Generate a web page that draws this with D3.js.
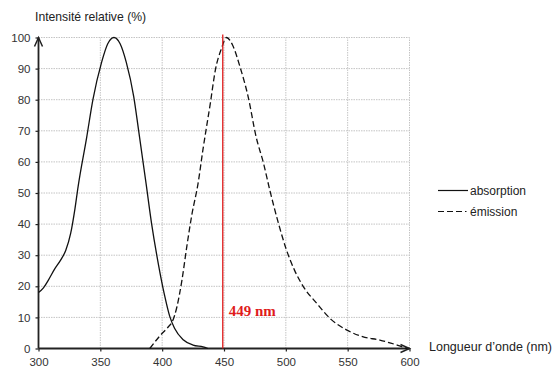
<!DOCTYPE html>
<html>
<head>
<meta charset="utf-8">
<script src="https://cdn.jsdelivr.net/npm/d3@7"></script>
<style>
	body { margin: 0; background: #fff; }
	text { font-family: "Liberation Sans", Arial, sans-serif; }
</style>
</head>
<body>
<svg id="chart" width="557" height="374"></svg>
<script>
// absorption curve (solid)
var absWl  = [300, 304, 308, 313, 318, 322, 326, 329.5, 332, 339, 344, 351, 356, 361, 366, 371, 377, 381, 387, 391.5, 397, 402, 406, 410, 417, 425, 433, 437];
var absVal = [18, 19.5, 22, 25.5, 28.5, 31.5, 37, 45, 52, 68, 80, 92, 98, 100, 98, 92, 81, 70, 53, 40, 27, 17, 10.5, 6.5, 2.8, 1.1, 0.5, 0];

// emission curve (dashed)
var emiWl  = [390, 398, 405, 408, 412, 416, 420, 424, 429, 433, 439, 443, 448, 452, 457, 463, 469.5, 476, 482, 487, 494, 500.5, 507, 514, 525, 537, 549, 562, 576, 590, 598];
var emiVal = [0, 4, 7, 8.5, 13.5, 22, 33, 43, 53, 64, 79, 89.5, 96.5, 100, 97.5, 90.5, 81, 68, 59.5, 51, 40.3, 31.7, 25.2, 20, 14.5, 9.2, 6, 3.8, 2.7, 1.1, 0];

var xTicks = [300, 350, 400, 450, 500, 550, 600];
var yTicks = [0, 10, 20, 30, 40, 50, 60, 70, 80, 90, 100];
var peakWl = 449;
var peakLabel = '449 nm';
var legendNames = ['absorption', 'émission'];

var svg = d3.select('#chart'),
	x = d3.scaleLinear().domain([300, 600]).range([38.5, 409.5]),
	y = d3.scaleLinear().domain([0, 100]).range([348.5, 37.5]);

// grid
var grid = svg.append('g').attr('class', 'grid');
grid.selectAll('line.v').data(xTicks.slice(1)).enter().append('line')
	.attr('class', 'v')
	.attr('x1', function (d) {return x(d);}).attr('x2', function (d) {return x(d);})
	.attr('y1', y(0)).attr('y2', y(100))
	.attr('stroke', '#c4c4c4').attr('stroke-width', 1).attr('stroke-dasharray', '1.5,1');
grid.selectAll('line.h').data(yTicks.slice(1)).enter().append('line')
	.attr('class', 'h')
	.attr('x1', x(300)).attr('x2', x(600))
	.attr('y1', function (d) {return y(d);}).attr('y2', function (d) {return y(d);})
	.attr('stroke', '#c4c4c4').attr('stroke-width', 1).attr('stroke-dasharray', '1.5,1');

// axes
var xAxis = d3.axisBottom(x).tickValues(xTicks).tickSize(3).tickSizeOuter(0).tickPadding(6);
var yAxis = d3.axisLeft(y).tickValues(yTicks).tickSize(3).tickSizeOuter(0).tickPadding(5);

var gx = svg.append('g').attr('transform', 'translate(0,' + y(0) + ')').call(xAxis);
var gy = svg.append('g').attr('transform', 'translate(' + x(300) + ',0)').call(yAxis);
[gx, gy].forEach(function (g) {
	g.select('.domain').remove();
	g.selectAll('.tick line').attr('stroke', '#222').attr('stroke-width', 1.2);
	g.selectAll('.tick text').attr('fill', '#333').style('font-size', '11.5px')
		.style('font-family', '"Liberation Sans", Arial, sans-serif');
});

// axis lines with open arrow heads
svg.append('line').attr('x1', x(300)).attr('x2', x(600)).attr('y1', y(0)).attr('y2', y(0))
	.attr('stroke', '#222').attr('stroke-width', 1.8);
svg.append('line').attr('x1', x(300)).attr('x2', x(300)).attr('y1', y(0)).attr('y2', y(100))
	.attr('stroke', '#222').attr('stroke-width', 1.8);
svg.append('path')
	.attr('d', 'M' + (x(600) - 9) + ',' + (y(0) - 4) + 'L' + x(600) + ',' + y(0) + 'L' + (x(600) - 9) + ',' + (y(0) + 4))
	.attr('fill', 'none').attr('stroke', '#222').attr('stroke-width', 1.5);
svg.append('path')
	.attr('d', 'M' + (x(300) - 4) + ',' + (y(100) + 9) + 'L' + x(300) + ',' + y(100) + 'L' + (x(300) + 4) + ',' + (y(100) + 9))
	.attr('fill', 'none').attr('stroke', '#222').attr('stroke-width', 1.5);

// curves
var line = d3.line()
	.x(function (d) {return x(d[0]);})
	.y(function (d) {return y(d[1]);})
	.curve(d3.curveMonotoneX);

svg.append('path').datum(d3.zip(absWl, absVal))
	.attr('d', line).attr('fill', 'none')
	.attr('stroke', '#111').attr('stroke-width', 1.3);
svg.append('path').datum(d3.zip(emiWl, emiVal))
	.attr('d', line).attr('fill', 'none')
	.attr('stroke', '#111').attr('stroke-width', 1.3).attr('stroke-dasharray', '6,3');

// peak marker
svg.append('line')
	.attr('x1', x(peakWl)).attr('x2', x(peakWl))
	.attr('y1', y(0)).attr('y2', y(100) - 3)
	.attr('stroke', '#e01b1b').attr('stroke-width', 1.3);
svg.append('text')
	.attr('x', x(peakWl) + 6).attr('y', 316)
	.attr('fill', '#e01b1b')
	.style('font-family', '"Liberation Serif", "Times New Roman", serif')
	.style('font-weight', 'bold').style('font-size', '15px')
	.text(peakLabel);

// axis titles
svg.append('text').attr('x', 35).attr('y', 21).attr('fill', '#222')
	.style('font-size', '12.2px').text('Intensité relative (%)');
svg.append('text').attr('x', 429).attr('y', 351).attr('fill', '#222')
	.style('font-size', '12.5px').text('Longueur d\u2019onde (nm)');

// legend
var legend = svg.append('g').attr('transform', 'translate(438,0)');
legend.selectAll('line').data(legendNames).enter().append('line')
	.attr('x1', 0).attr('x2', 30)
	.attr('y1', function (d, i) {return 190.5 + i * 21;}).attr('y2', function (d, i) {return 190.5 + i * 21;})
	.attr('stroke', '#111').attr('stroke-width', 1.2)
	.attr('stroke-dasharray', function (d, i) {return i ? '6,3,6,3,6,3,1.5' : null;});
legend.selectAll('text').data(legendNames).enter().append('text')
	.attr('x', 32).attr('y', function (d, i) {return 194.5 + i * 21;})
	.attr('fill', '#222').style('font-size', '12px')
	.text(function (d) {return d;});
</script>
</body>
</html>
